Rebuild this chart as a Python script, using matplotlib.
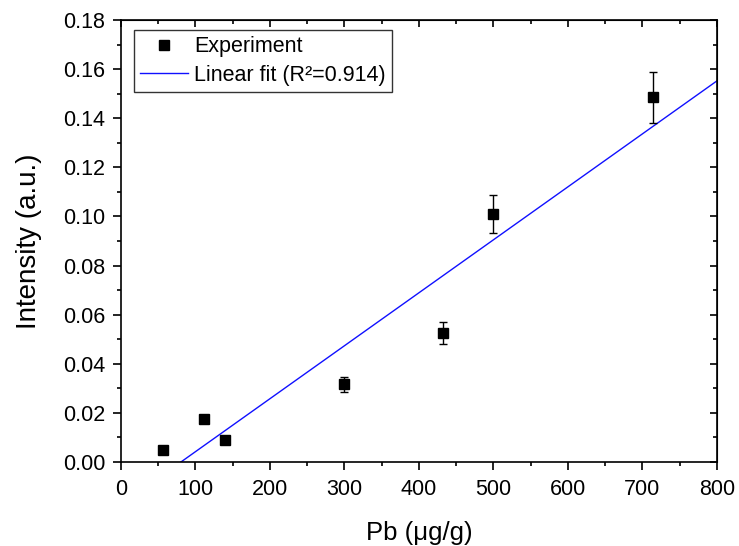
import matplotlib
matplotlib.use("Agg")
import matplotlib.pyplot as plt
from matplotlib.ticker import MultipleLocator
from matplotlib.lines import Line2D
import numpy as np

plt.rcParams['font.family'] = ['Liberation Sans', 'DejaVu Sans']

# data
pb = [56, 112, 140, 300, 432, 500, 714]
intensity = [0.0050, 0.0175, 0.0091, 0.0317, 0.0527, 0.1011, 0.1485]
err = [0.0008, 0.0015, 0.0008, 0.0030, 0.0045, 0.0078, 0.0103]

fit_slope = 2.157e-4
fit_intercept = -0.01735
fit_r2 = 0.914

fig = plt.figure(figsize=(7.39, 5.46), dpi=100)
ax = fig.add_axes([0.1637, 0.1538, 0.8065, 0.8096])

ax.errorbar(pb, intensity, yerr=err, fmt='s', color='black', ms=7.5,
            ecolor='black', elinewidth=1, capsize=3, capthick=1, zorder=3)

xfit = np.array([0, 800])
ax.plot(xfit, fit_slope * xfit + fit_intercept, color='#1010ff', lw=1, zorder=2)

ax.set_xlim(0, 800)
ax.set_ylim(0, 0.18)
ax.xaxis.set_major_locator(MultipleLocator(100))
ax.xaxis.set_minor_locator(MultipleLocator(50))
ax.yaxis.set_major_locator(MultipleLocator(0.02))
ax.yaxis.set_minor_locator(MultipleLocator(0.01))
ax.yaxis.set_major_formatter(plt.FormatStrFormatter('%.2f'))

ax.tick_params(which='both', direction='out', labelsize=15.5, width=1.2)
ax.tick_params(which='major', length=6)
ax.tick_params(which='minor', length=3)
ax.tick_params(axis='x', which='major', pad=6)
ax.tick_params(axis='y', which='major', pad=5.5)
for s in ax.spines.values():
    s.set_linewidth(1.2)

# inward ticks on top and right
axt = ax.secondary_xaxis('top')
axt.xaxis.set_major_locator(MultipleLocator(100))
axt.xaxis.set_minor_locator(MultipleLocator(50))
axt.tick_params(which='both', direction='in', labeltop=False, width=1.2)
axt.tick_params(which='major', length=5)
axt.tick_params(which='minor', length=3)
axr = ax.secondary_yaxis('right')
axr.yaxis.set_major_locator(MultipleLocator(0.02))
axr.yaxis.set_minor_locator(MultipleLocator(0.01))
axr.tick_params(which='both', direction='in', labelright=False, width=1.2)
axr.tick_params(which='major', length=5)
axr.tick_params(which='minor', length=3)

ax.set_xlabel('Pb (μg/g)', fontsize=18.5, labelpad=15)
ax.set_ylabel('Intensity (a.u.)', fontsize=20, labelpad=15)

handles = [
    Line2D([], [], ls='none', marker='s', color='black', ms=7.5),
    Line2D([], [], color='#1010ff', lw=1),
]
labels = ['Experiment', 'Linear fit (R²=%.3f)' % fit_r2]
leg = ax.legend(handles, labels, loc='upper left', fontsize=15.5,
                frameon=True, fancybox=False, edgecolor='black',
                handlelength=2.2, handletextpad=0.3, borderpad=0.3,
                labelspacing=0.35, borderaxespad=0,
                bbox_to_anchor=(0.0218, 0.978))
leg.get_frame().set_linewidth(1)

fig.savefig('out.png', dpi=100)
